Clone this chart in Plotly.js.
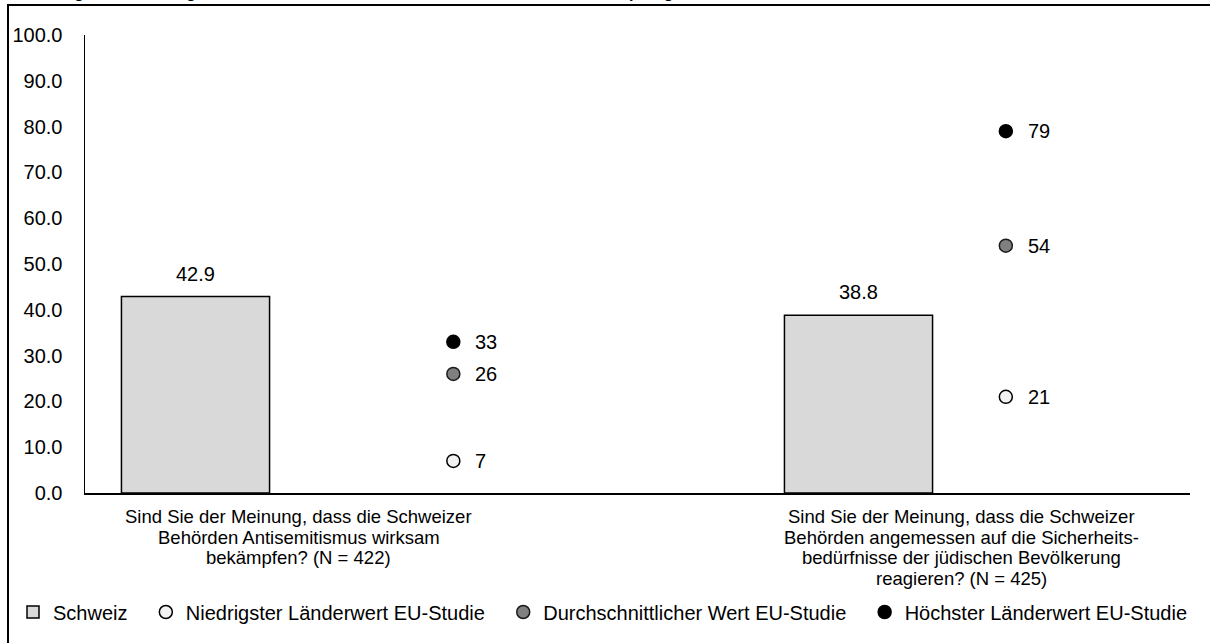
<!DOCTYPE html>
<html><head><meta charset="utf-8">
<script src="https://cdn.plot.ly/plotly-3.0.1.min.js"></script>
<style>
html,body{margin:0;padding:0;overflow:hidden;background:#fff}
#wrap{position:relative;width:1210px;height:643px;overflow:hidden}
#chart{position:absolute;left:0;top:0;width:1210px;height:643px}
#frame{position:absolute;left:7px;top:4px;width:1400px;height:900px;border-left:2px solid #000;border-top:2px solid #000;pointer-events:none}
</style>
</head><body><div id="wrap"><div id="chart"></div><div id="frame"></div></div>
<script>
// ---- data ----
const categories = ["Frage 1", "Frage 2"];
const categoryLines = [
  ["Sind Sie der Meinung, dass die Schweizer", "Behörden Antisemitismus wirksam", "bekämpfen? (N = 422)"],
  ["Sind Sie der Meinung, dass die Schweizer", "Behörden angemessen auf die Sicherheits-", "bedürfnisse der jüdischen Bevölkerung", "reagieren? (N = 425)"]
];
const schweiz = [42.9, 38.8];
const niedrigster = [7, 21];
const durchschnitt = [26, 54];
const hoechster = [33, 79];
const seriesNames = ["Schweiz", "Niedrigster Länderwert EU-Studie", "Durchschnittlicher Wert EU-Studie", "Höchster Länderwert EU-Studie"];
const yTicks = [0, 10, 20, 30, 40, 50, 60, 70, 80, 90, 100];
const titleText = "Abbildung 5: Beurteilung der Wirksamkeit der Schweizer Behörden bei der Bekämpfung des Antisemitismus";

// ---- geometry ----
const W = 1210, H = 643;
const M = {l: 85, r: 20, t: 35, b: 150};
const FONT = "Arial, 'Liberation Sans', sans-serif";
const LEG_FS = 20;

// legend placement: one row, texts spanning from x≈54 to x≈1188
const cnv = document.createElement("canvas").getContext("2d");
cnv.font = LEG_FS + "px Arial, 'Liberation Sans', sans-serif";
const tw = seriesNames.map(s => cnv.measureText(s).width);
const firstText = 54, lastTextEnd = 1188;
const gap = (lastTextEnd - firstText - tw.reduce((a, b) => a + b, 0)) / 3;
const textX = [];
let cur = firstText;
tw.forEach(w => { textX.push(cur); cur += w + gap; });
// Plotly: legend text begins ~41px right of the legend's left edge
const legendNames = ["legend", "legend2", "legend3", "legend4"];
const legendLayouts = {};
legendNames.forEach((ln, i) => {
  legendLayouts[ln] = {orientation: "h", xref: "container", yref: "container", x: (textX[i] - 41) / W,
    xanchor: "left", y: 1 - 612 / H, yanchor: "middle", font: {size: LEG_FS, color: "#000", family: FONT},
    bgcolor: "rgba(0,0,0,0)", itemwidth: 30};
});

const traces = [
  {type: "bar", name: seriesNames[0], legend: "legend", x: categories, y: schweiz, xaxis: "x", yaxis: "y",
   width: 0.2234, marker: {color: "#d9d9d9", line: {color: "#000", width: 1.5}}, hoverinfo: "skip"},
  {type: "scatter", mode: "markers", name: seriesNames[1], legend: "legend2", x: categories, y: niedrigster, xaxis: "x2", yaxis: "y",
   marker: {size: 13, color: "#f2f2f2", line: {color: "#000", width: 1.5}}, hoverinfo: "skip", cliponaxis: false},
  {type: "scatter", mode: "markers", name: seriesNames[2], legend: "legend3", x: categories, y: durchschnitt, xaxis: "x2", yaxis: "y",
   marker: {size: 13, color: "#808080", line: {color: "#1a1a1a", width: 1.5}}, hoverinfo: "skip", cliponaxis: false},
  {type: "scatter", mode: "markers", name: seriesNames[3], legend: "legend4", x: categories, y: hoechster, xaxis: "x2", yaxis: "y",
   marker: {size: 13, color: "#000", line: {color: "#000", width: 1.5}}, hoverinfo: "skip", cliponaxis: false}
];

const annotations = [];
categories.forEach((c, i) => {
  annotations.push({xref: "x", yref: "y", x: c, y: schweiz[i], text: schweiz[i].toFixed(1),
    showarrow: false, yanchor: "bottom", yshift: 10, font: {size: 20, color: "#000", family: FONT}});
  [niedrigster, durchschnitt, hoechster].forEach(arr => {
    annotations.push({xref: "x2", yref: "y", x: c, y: arr[i], text: String(arr[i]),
      showarrow: false, xanchor: "left", xshift: 20, font: {size: 20, color: "#000", family: FONT}});
  });
  categoryLines[i].forEach((line, j) => {
    annotations.push({xref: "x", yref: "paper", x: c, y: 0, text: line, showarrow: false,
      xshift: 103, yanchor: "top", yshift: -(11 + j * 20.5), font: {size: 18.5, color: "#000", family: FONT}});
  });
});
annotations.push({xref: "paper", yref: "paper", x: 0, y: 1, xanchor: "left", yanchor: "bottom",
  xshift: 3 - M.l, yshift: 32, showarrow: false, text: "<b>" + titleText + "</b>",
  font: {size: 16, color: "#000", family: FONT}});

const layout = Object.assign({
  width: W, height: H, margin: M, paper_bgcolor: "#fff", plot_bgcolor: "#fff",
  font: {family: FONT, size: 20, color: "#000"},
  showlegend: true,
  xaxis: {type: "category", categoryarray: categories, range: [-1/6, 1.5], showline: true, linecolor: "#000",
    linewidth: 1.5, showticklabels: false, ticks: "", showgrid: false, zeroline: false, fixedrange: true},
  xaxis2: {type: "category", categoryarray: categories, range: [-2/3, 4/3], overlaying: "x", anchor: "y",
    visible: false, fixedrange: true},
  yaxis: {range: [0, 100], tickvals: yTicks, ticktext: yTicks.map(v => v.toFixed(1)), showline: true,
    linecolor: "#000", linewidth: 1.5, ticks: "", showgrid: false, zeroline: false, ticklabelstandoff: 17,
    tickfont: {size: 20, color: "#000", family: FONT}, fixedrange: true},
  annotations: annotations
}, legendLayouts);

Plotly.newPlot("chart", traces, layout, {staticPlot: true, displayModeBar: false});
</script></body></html>
